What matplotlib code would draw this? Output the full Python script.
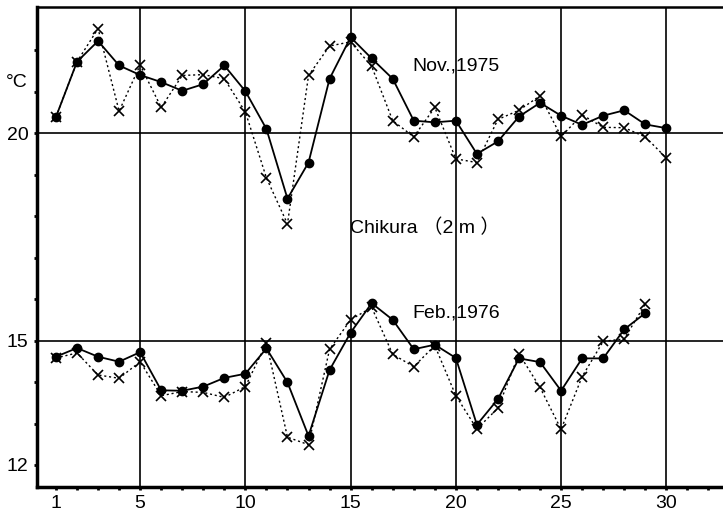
import numpy as np
import matplotlib.pyplot as plt

plt.rcParams['font.family'] = ['Liberation Sans', 'DejaVu Sans']

days = np.arange(1, 31)
days_feb = np.arange(1, 30)

# Nov. 1975, solid line with dots
nov_solid = [20.39, 21.72, 22.22, 21.63, 21.40, 21.23, 21.02, 21.18, 21.63, 21.01,
             20.10, 18.42, 19.29, 21.31, 22.31, 21.80, 21.31, 20.30, 20.26, 20.30,
             19.50, 19.80, 20.40, 20.73, 20.42, 20.20, 20.42, 20.55, 20.21, 20.12]
# Nov. 1975, dotted line with crosses
nov_dotted = [20.39, 21.72, 22.52, 20.53, 21.64, 20.62, 21.39, 21.41, 21.31, 20.51,
              18.92, 17.81, 21.39, 22.10, 22.20, 21.61, 20.30, 19.91, 20.62, 19.38,
              19.29, 20.33, 20.55, 20.90, 19.92, 20.44, 20.14, 20.13, 19.91, 19.40]

# Feb. 1976
feb_solid = [14.61, 14.82, 14.61, 14.49, 14.72, 13.80, 13.79, 13.89, 14.10, 14.20,
             14.81, 13.99, 12.70, 14.29, 15.19, 15.90, 15.50, 14.79, 14.90, 14.58,
             12.97, 13.59, 14.57, 14.48, 13.79, 14.57, 14.57, 15.27, 15.66]
feb_dotted = [14.58, 14.70, 14.17, 14.09, 14.49, 13.67, 13.77, 13.75, 13.63, 13.89,
              14.94, 12.67, 12.49, 14.79, 15.50, 15.80, 14.67, 14.37, 14.88, 13.67,
              12.87, 13.37, 14.68, 13.87, 12.86, 14.13, 14.98, 15.04, 15.88]

fig = plt.figure(figsize=(7.23, 5.15), dpi=100)
ax = fig.add_axes([0.0512, 0.0544, 0.949, 0.932])

# grid lines
for d in [5, 10, 15, 20, 25, 30]:
    ax.axvline(d, color='black', lw=1.2, zorder=1)
ax.axhline(20, color='black', lw=1.2, zorder=1)
ax.axhline(15, color='black', lw=1.2, zorder=1)

for solid, dotted, x in [(nov_solid, nov_dotted, days), (feb_solid, feb_dotted, days_feb)]:
    ax.plot(x, dotted, color='black', lw=1.0, ls=(0, (1.5, 2)),
            marker='x', ms=6.5, mew=1.2, zorder=2)
    ax.plot(x, solid, color='black', lw=1.3, ls='-',
            marker='o', ms=6, zorder=3)

ax.set_xlim(0.1, 32.7)
ax.set_ylim(11.47, 23.04)

ax.set_xticks(np.arange(1, 33))
ax.set_xticklabels([str(d) if d in (1, 5, 10, 15, 20, 25, 30) else '' for d in range(1, 33)])
ax.set_yticks(np.arange(12, 23))
ax.set_yticklabels([str(v) if v in (12, 15, 20) else '' for v in range(12, 23)])
ax.tick_params(axis='both', direction='out', length=2, width=2, labelsize=14, pad=4)

ax.spines['right'].set_visible(False)
ax.spines['left'].set_linewidth(2.5)
ax.spines['bottom'].set_linewidth(2.5)
ax.spines['top'].set_linewidth(1.8)

ax.text(-0.045, 0.842, '°C', transform=ax.transAxes, fontsize=14, ha='left', va='center')
ax.text(17.95, 21.61, 'Nov.,1975', fontsize=14, ha='left', va='center')
ax.text(14.97, 17.71, 'Chikura （2 m ）', fontsize=14, ha='left', va='center',
        family=['Liberation Sans', 'Noto Sans CJK JP'])
ax.text(17.95, 15.67, 'Feb.,1976', fontsize=14, ha='left', va='center')

fig.savefig('out.png', dpi=100)
